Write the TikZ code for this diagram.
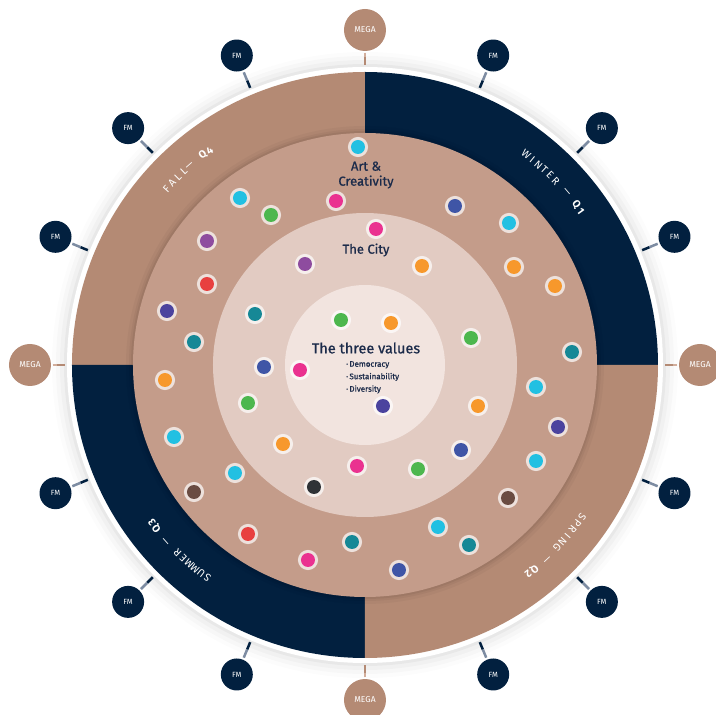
\documentclass[tikz,border=0pt]{standalone}
\usepackage{fontspec}
\setmainfont{Fira Sans}
\newfontfamily\heavier{Fira Sans}[FakeBold=0.8]
\usepackage{tikz}
\usetikzlibrary{positioning}
\definecolor{navy}{HTML}{02203F}
\definecolor{outer}{HTML}{B48A74}
\definecolor{ring}{HTML}{C49C8A}
\definecolor{city}{HTML}{E2CBC2}
\definecolor{core}{HTML}{F2E4DF}
\definecolor{ink}{HTML}{1C2B4A}
\definecolor{stem}{HTML}{7D8CA2}
\definecolor{megastem}{HTML}{D2AE9C}
\definecolor{dcyan}{HTML}{22C0E2}
\definecolor{dgreen}{HTML}{4DB74E}
\definecolor{dpink}{HTML}{EA3290}
\definecolor{dblue}{HTML}{3F55A6}
\definecolor{dindigo}{HTML}{4B439E}
\definecolor{dpurple}{HTML}{8E4C9F}
\definecolor{dorange}{HTML}{F7982C}
\definecolor{dred}{HTML}{E8403F}
\definecolor{dteal}{HTML}{168896}
\definecolor{dbrown}{HTML}{6A4C42}
\definecolor{ddark}{HTML}{2F3236}

\begin{document}
\begin{tikzpicture}[x=1pt,y=1pt,
		mega node/.style={circle,fill=outer,text=white,minimum size=42pt,
			inner sep=0pt,font=\fontsize{8.5}{9}\selectfont},
		fm node/.style={circle,fill=navy,text=white,minimum size=32pt,
			inner sep=0pt,font=\fontsize{7.5}{8}\selectfont},
		dot node/.style={circle,fill=#1,minimum size=14pt,inner sep=0pt,
			preaction={draw=white,draw opacity=.7,line width=6pt}},
		season/.style={text=white,inner sep=0pt,font=\fontsize{10.5}{11}\selectfont},
		ring title/.style={text=ink,align=center,font=\heavier\fontsize{13}{15}\selectfont}]
	\useasboundingbox (-365,-350) rectangle (351,365);
	
	% shadow and white rim
	\foreach \r/\o in {313/0.012,309/0.018,305/0.025,301/0.035}
	\fill[black,opacity=\o] (0,0) circle (\r);
	\fill[white] (0,0) circle (298);
	
	% quarters
	\fill[navy] (0,0) -- (0:293) arc (0:90:293) -- cycle;
	\fill[outer] (0,0) -- (90:293) arc (90:180:293) -- cycle;
	\fill[navy] (0,0) -- (180:293) arc (180:270:293) -- cycle;
	\fill[outer] (0,0) -- (270:293) arc (270:360:293) -- cycle;
	
	% inner circles
	\foreach \r/\o in {239/0.03,236/0.04,234/0.05}
	\fill[black,opacity=\o] (0,0) circle (\r);
	\fill[ring] (0,0) circle (232);
	\fill[city] (0,0) circle (152);
	\fill[core] (0,0) circle (80);
	
	% MEGA and FM around the rim
	\foreach \i in {0,...,15} {
		\pgfmathsetmacro\ang{90-22.5*\i}
		\pgfmathtruncatemacro\k{mod(\i,4)}
		\coordinate (rim\i) at (\ang:300);
		\coordinate (mid\i) at (\ang:308);
		\ifnum\k=0
		\node[mega node] (mega\i) at (\ang:335) {MEGA};
		\draw[outer,line width=2.5pt] (mid\i) -- (rim\i);
		\draw[megastem,line width=2.5pt,shorten <=1.5pt] (mega\i) -- (mid\i);
		\else
		\node[fm node] (fm\i) at (\ang:335) {FM};
		\draw[navy,line width=2.5pt] (mid\i) -- (rim\i);
		\draw[stem,line width=2.5pt,shorten <=2pt] (fm\i) -- (mid\i);
		\fi
	}
	
	% season labels
	\foreach \ch [count=\i from 0] in {W,I,N,T,E,R,{},—,{},{\bfseries Q},{\bfseries 1}} {
		\pgfmathsetmacro\ang{52.5-1.7*\i}
		\node[season,rotate=\ang-90] (winter\i) at (\ang:265) {\ch};
	}
	\foreach \ch [count=\i from 0] in {S,P,R,I,N,G,{},—,{},{\bfseries Q},{\bfseries 2}} {
		\pgfmathsetmacro\ang{-35-1.7*\i}
		\node[season,rotate=\ang-90] (spring\i) at (\ang:265) {\ch};
	}
	\foreach \ch [count=\i from 0] in {S,U,M,M,E,R,{},—,{},{\bfseries Q},{\bfseries 3}} {
		\pgfmathsetmacro\ang{233.5-1.7*\i}
		\node[season,rotate=\ang-90] (summer\i) at (\ang:265) {\ch};
	}
	\foreach \ch [count=\i from 0] in {F,A,L,L,—,{},{\bfseries Q},{\bfseries 4}} {
		\pgfmathsetmacro\ang{138.5-1.8*\i}
		\node[season,rotate=\ang-90] (fall\i) at (\ang:265) {\ch};
	}
	
	% titles
	\node[ring title] (art) at (1,190) {Art \&\\Creativity};
	\node[ring title] (thecity) at (1,115) {The City};
	\node[ring title,font=\heavier\fontsize{14.5}{16}\selectfont] (values) at (1,17) {The three values};
	\node[text=ink,anchor=north west,align=left,inner sep=0pt,
	font=\heavier\fontsize{8}{12.5}\selectfont] (valuelist) at (-19,4)
	{·\,Democracy\\·\,Sustainability\\·\,Diversity};
	
	% dots
	\foreach \x/\y/\c [count=\n] in {
		358/147/dcyan, 240/198/dcyan, 271/215/dgreen, 336/201/dpink,
		455/206/dblue, 509/223/dcyan, 207/241/dpurple, 514/267/dorange,
		207/284/dred, 555/286/dorange, 167/311/dindigo, 194/342/dteal,
		572/352/dteal, 165/380/dorange, 536/387/dcyan, 558/427/dindigo,
		174/437/dcyan, 536/461/dcyan, 194/492/dbrown, 508/498/dbrown,
		248/534/dred, 438/527/dcyan, 352/542/dteal, 469/545/dteal,
		308/560/dpink, 399/570/dblue, 235/473/dcyan,
		376/229/dpink, 305/264/dpurple, 422/266/dorange, 255/314/dteal,
		471/338/dgreen, 264/367/dblue, 248/403/dgreen, 478/406/dorange,
		283/444/dorange, 461/450/dblue, 314/487/ddark, 357/466/dpink,
		418/469/dgreen,
		341/320/dgreen, 391/323/dorange, 300/370/dpink, 383/406/dindigo}
	\node[dot node=\c] (dot\n) at ({\x-365},{365-\y}) {};
\end{tikzpicture}
\end{document}
